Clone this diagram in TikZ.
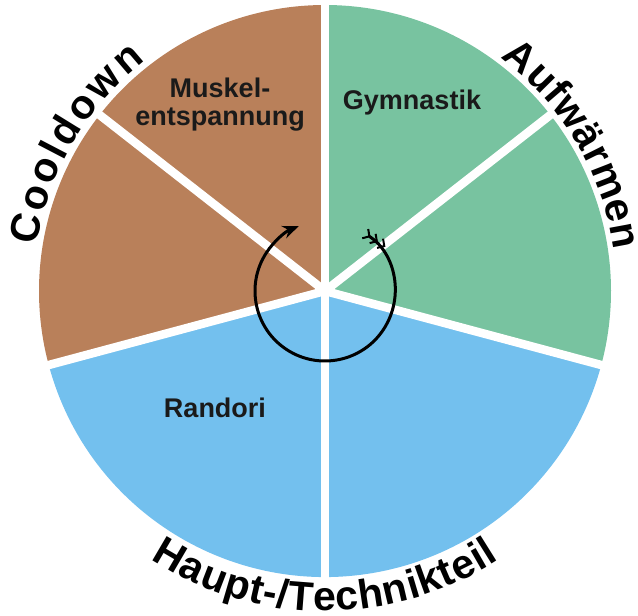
\documentclass[tikz,border=0pt]{standalone}
\usepackage{fontspec}
\setmainfont{Liberation Sans}
\usepackage{tikz}
\usetikzlibrary{arrows.meta, decorations.text}
\definecolor{cooldownbrown}{RGB}{185,128,90}
\definecolor{warmupgreen}{RGB}{120,195,160}
\definecolor{mainblue}{RGB}{115,192,238}
\definecolor{labeltext}{RGB}{26,26,26}

\begin{document}
\begin{tikzpicture}[x=1pt, y=1pt,
  gap/.style={white, line width=8.5pt},
  sectorlabel/.style={font=\fontsize{27}{28}\selectfont\bfseries, text=labeltext, align=center},
  phase/.style={decorate, decoration={text along path, text align={fit to path},
      text={|\fontsize{41}{41}\selectfont\bfseries|#1}}},
  feather/.tip={Straight Barb[reversed,length=5pt,width=11pt,line width=2pt,sep=1.5pt]}
]
\useasboundingbox (-325,-325) rectangle (313,291);

% sectors
\fill[warmupgreen] (0,0) -- (-15:286) arc[start angle=-15, end angle=90, radius=286] -- cycle;
\fill[cooldownbrown] (0,0) -- (90:286) arc[start angle=90, end angle=195, radius=286] -- cycle;
\fill[mainblue] (0,0) -- (195:286) arc[start angle=195, end angle=345, radius=286] -- cycle;

% white gaps
\foreach \a in {-15,38,90,142,195,270}
  \draw[gap] (0,0) -- (\a:295);

% sector labels
\node[sectorlabel] (muskel) at (-105,186) {Muskel-\\entspannung};
\node[sectorlabel] (gymnastik) at (87,188) {Gymnastik};
\node[sectorlabel] (randori) at (-110,-117) {Randori};

% phase names round the circle
\path[phase={Cooldown}] (171:292) arc[start angle=171, end angle=128, radius=292];
\path[phase={Aufw{ä}rmen}] (53:292) arc[start angle=53, end angle=8, radius=292];
\path[phase={Haupt-/Technikteil}] (237:320) arc[start angle=237, end angle=303, radius=320];

% cycle arrow
\draw[line width=3pt, {feather[]feather[]feather[]}-{Stealth[length=16pt,width=13pt]}]
  (57:70) arc[start angle=57, end angle=-248, radius=70];
\end{tikzpicture}
\end{document}
